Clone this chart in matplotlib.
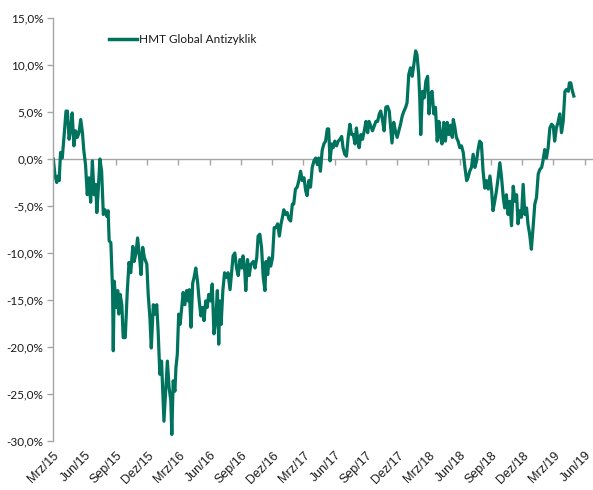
import pandas as pd
import matplotlib
matplotlib.use("Agg")
import matplotlib.pyplot as plt
from matplotlib.ticker import FuncFormatter

# values (performance in %)
dates = [
    "2015-03-02", "2015-03-07", "2015-03-12", "2015-03-16", "2015-03-19", "2015-03-23", "2015-03-28",
    "2015-04-02", "2015-04-08", "2015-04-12", "2015-04-17", "2015-04-22", "2015-04-26", "2015-05-01",
    "2015-05-06", "2015-05-11", "2015-05-16", "2015-05-21", "2015-05-26", "2015-05-30", "2015-06-04",
    "2015-06-09", "2015-06-14", "2015-06-19", "2015-06-24", "2015-06-29", "2015-07-04", "2015-07-07",
    "2015-07-11", "2015-07-16", "2015-07-21", "2015-07-26", "2015-07-31", "2015-08-05", "2015-08-09",
    "2015-08-12", "2015-08-17", "2015-08-22", "2015-08-24", "2015-08-27", "2015-09-01", "2015-09-06",
    "2015-09-09", "2015-09-13", "2015-09-18", "2015-09-22", "2015-09-28", "2015-10-04", "2015-10-09",
    "2015-10-14", "2015-10-20", "2015-10-24", "2015-10-29", "2015-11-03", "2015-11-08", "2015-11-13",
    "2015-11-18", "2015-11-23", "2015-11-30", "2015-12-04", "2015-12-09", "2015-12-13", "2015-12-19",
    "2015-12-24", "2015-12-29", "2016-01-02", "2016-01-07", "2016-01-12", "2016-01-15", "2016-01-19",
    "2016-01-24", "2016-01-29", "2016-02-03", "2016-02-08", "2016-02-11", "2016-02-15", "2016-02-20",
    "2016-02-23", "2016-02-27", "2016-03-02", "2016-03-06", "2016-03-11", "2016-03-15", "2016-03-20",
    "2016-03-25", "2016-03-30", "2016-04-02", "2016-04-07", "2016-04-12", "2016-04-16", "2016-04-21",
    "2016-04-26", "2016-05-01", "2016-05-06", "2016-05-11", "2016-05-15", "2016-05-20", "2016-05-24",
    "2016-05-29", "2016-06-03", "2016-06-08", "2016-06-13", "2016-06-18", "2016-06-23", "2016-06-27",
    "2016-06-30", "2016-07-04", "2016-07-09", "2016-07-14", "2016-07-19", "2016-07-24", "2016-07-30",
    "2016-08-04", "2016-08-08", "2016-08-13", "2016-08-18", "2016-08-23", "2016-08-28", "2016-09-02",
    "2016-09-06", "2016-09-11", "2016-09-14", "2016-09-19", "2016-09-24", "2016-09-29", "2016-10-06",
    "2016-10-11", "2016-10-16", "2016-10-20", "2016-10-25", "2016-10-30", "2016-11-04", "2016-11-09",
    "2016-11-12", "2016-11-17", "2016-11-21", "2016-11-26", "2016-12-01", "2016-12-06", "2016-12-11",
    "2016-12-16", "2016-12-21", "2016-12-26", "2016-12-30", "2017-01-03", "2017-01-08", "2017-01-13",
    "2017-01-18", "2017-01-23", "2017-01-28", "2017-02-01", "2017-02-06", "2017-02-11", "2017-02-16",
    "2017-02-21", "2017-02-26", "2017-03-03", "2017-03-08", "2017-03-12", "2017-03-17", "2017-03-22",
    "2017-03-27", "2017-04-01", "2017-04-06", "2017-04-11", "2017-04-15", "2017-04-20", "2017-04-25",
    "2017-04-30", "2017-05-05", "2017-05-10", "2017-05-14", "2017-05-18", "2017-05-23", "2017-05-27",
    "2017-06-01", "2017-06-06", "2017-06-11", "2017-06-16", "2017-06-21", "2017-06-25", "2017-06-30",
    "2017-07-05", "2017-07-10", "2017-07-15", "2017-07-20", "2017-07-25", "2017-07-30", "2017-08-03",
    "2017-08-08", "2017-08-11", "2017-08-16", "2017-08-21", "2017-08-26", "2017-08-31", "2017-09-05",
    "2017-09-09", "2017-09-14", "2017-09-19", "2017-09-24", "2017-09-29", "2017-10-04", "2017-10-09",
    "2017-10-13", "2017-10-18", "2017-10-23", "2017-10-28", "2017-11-02", "2017-11-07", "2017-11-12",
    "2017-11-15", "2017-11-20", "2017-11-25", "2017-11-30", "2017-12-05", "2017-12-10", "2017-12-15",
    "2017-12-20", "2017-12-25", "2017-12-29", "2018-01-03", "2018-01-08", "2018-01-13", "2018-01-18",
    "2018-01-23", "2018-01-27", "2018-02-01", "2018-02-04", "2018-02-07", "2018-02-12", "2018-02-17",
    "2018-02-22", "2018-02-27", "2018-03-03", "2018-03-08", "2018-03-12", "2018-03-17", "2018-03-22",
    "2018-03-27", "2018-04-01", "2018-04-06", "2018-04-10", "2018-04-15", "2018-04-20", "2018-04-25",
    "2018-04-30", "2018-05-05", "2018-05-10", "2018-05-13", "2018-05-17", "2018-05-22", "2018-05-27",
    "2018-06-01", "2018-06-06", "2018-06-11", "2018-06-16", "2018-06-21", "2018-06-25", "2018-06-30",
    "2018-07-05", "2018-07-10", "2018-07-15", "2018-07-20", "2018-07-24", "2018-07-29", "2018-08-03",
    "2018-08-08", "2018-08-13", "2018-08-18", "2018-08-23", "2018-08-28", "2018-09-02", "2018-09-06",
    "2018-09-11", "2018-09-16", "2018-09-21", "2018-09-26", "2018-10-01", "2018-10-06", "2018-10-10",
    "2018-10-15", "2018-10-20", "2018-10-25", "2018-10-30", "2018-11-04", "2018-11-09", "2018-11-14",
    "2018-11-18", "2018-11-23", "2018-11-28", "2018-12-03", "2018-12-08", "2018-12-13", "2018-12-17",
    "2018-12-22", "2018-12-27", "2019-01-01", "2019-01-06", "2019-01-11", "2019-01-16", "2019-01-21",
    "2019-01-26", "2019-01-30", "2019-02-04", "2019-02-09", "2019-02-14", "2019-02-19", "2019-02-24",
    "2019-03-01", "2019-03-05", "2019-03-10", "2019-03-15", "2019-03-20", "2019-03-25", "2019-03-30",
    "2019-04-04", "2019-04-09", "2019-04-14", "2019-04-17", "2019-04-21", "2019-04-26", "2019-04-30",
]
values = [
    0.0, -1.8, -2.5, -1.8, -2.3, 0.7, 0.1,
    2.3, 5.1, 5.1, 2.1, 3.3, 4.9, 1.4,
    3.0, 2.3, 2.8, 4.2, 2.8, 0.9, -0.6,
    -3.8, -2.0, -4.6, -0.2, -3.8, -2.7, -5.7,
    -3.4, 0.0, -1.3, -5.9, -5.4, -6.1, -5.5,
    -8.7, -8.9, -14.0, -20.4, -13.0, -15.8, -14.0,
    -16.5, -14.4, -15.5, -19.0, -19.0, -14.0, -11.0,
    -12.1, -9.3, -10.9, -10.1, -8.4, -10.1, -12.3,
    -9.4, -10.5, -11.2, -14.4, -16.9, -20.1, -15.5,
    -16.5, -15.5, -18.3, -22.9, -21.5, -24.3, -27.9,
    -24.7, -21.5, -24.3, -25.7, -29.3, -23.6, -24.7,
    -22.2, -20.8, -16.5, -17.6, -15.8, -14.2, -15.5,
    -14.0, -15.1, -13.9, -17.9, -13.2, -12.6, -11.6,
    -13.0, -15.1, -16.7, -15.8, -17.2, -15.1, -15.8,
    -14.4, -15.1, -13.3, -18.6, -17.2, -14.0, -19.7,
    -15.1, -17.6, -14.0, -12.1, -12.6, -12.1, -13.9,
    -11.9, -10.3, -10.0, -11.6, -12.4, -10.7, -11.6,
    -10.3, -11.9, -14.0, -10.7, -12.4, -11.2, -10.9,
    -11.6, -10.5, -8.2, -8.0, -9.4, -12.6, -14.0,
    -10.9, -12.3, -10.5, -11.4, -10.5, -7.3, -7.3,
    -6.9, -8.2, -6.9, -6.2, -5.4, -5.9, -5.7,
    -6.4, -6.6, -4.8, -4.8, -3.2, -3.0, -2.3,
    -1.3, -2.3, -2.0, -3.4, -3.9, -2.3, -3.0,
    -0.9, -0.2, 0.1, -0.6, 0.1, -1.3, 0.9,
    1.6, 1.9, 3.2, 3.2, -0.2, 1.6, 1.2,
    1.9, 1.4, 1.9, 2.1, 2.4, 1.2, 0.5,
    0.3, 2.3, 3.7, 2.6, 2.6, 1.6, 3.3,
    1.9, 1.2, 2.6, 2.1, 3.0, 4.0, 2.8,
    4.0, 3.5, 3.0, 3.5, 4.0, 4.0, 4.8,
    5.1, 4.2, 3.0, 5.5, 5.6, 5.1, 3.0,
    1.7, 3.9, 3.0, 2.3, 3.0, 3.7, 4.6,
    5.1, 5.5, 6.0, 9.0, 9.7, 8.8, 10.1,
    11.5, 11.1, 9.0, 6.5, 2.6, 7.2, 6.5,
    8.3, 8.8, 4.8, 6.9, 7.2, 4.8, 5.5,
    1.9, 4.0, 2.3, 1.6, 3.9, 1.9, 3.9,
    2.6, 3.6, 2.3, 4.2, 3.5, 2.3, 1.9,
    1.2, 1.4, 0.7, -0.9, -2.3, -2.0, -1.3,
    -0.9, 0.5, -0.9, -0.2, 0.9, 1.9, 1.7,
    -1.3, -3.1, -2.3, -3.2, -1.8, -3.4, -5.5,
    -4.5, -3.4, -2.0, -0.4, -2.0, -4.1, -5.2,
    -3.8, -5.9, -4.5, -7.1, -2.9, -4.5, -3.8,
    -6.9, -5.5, -6.2, -2.7, -5.9, -5.2, -6.9,
    -8.0, -9.6, -7.3, -4.8, -4.1, -1.6, -1.1,
    -0.9, -0.2, 1.0, 0.1, 1.2, 3.3, 3.7,
    3.5, 1.9, 3.3, 3.9, 4.8, 2.8, 4.0,
    7.2, 7.4, 7.2, 8.1, 8.1, 7.2, 6.7,
]
series_name = "HMT Global Antizyklik"

tick_dates = ["2015-03-01", "2015-06-01", "2015-09-01", "2015-12-01",
              "2016-03-01", "2016-06-01", "2016-09-01", "2016-12-01",
              "2017-03-01", "2017-06-01", "2017-09-01", "2017-12-01",
              "2018-03-01", "2018-06-01", "2018-09-01", "2018-12-01",
              "2019-03-01", "2019-06-01"]
tick_labels = ["Mrz/15", "Jun/15", "Sep/15", "Dez/15", "Mrz/16", "Jun/16",
               "Sep/16", "Dez/16", "Mrz/17", "Jun/17", "Sep/17", "Dez/17",
               "Mrz/18", "Jun/18", "Sep/18", "Dez/18", "Mrz/19", "Jun/19"]
y_ticks = [15, 10, 5, 0, -5, -10, -15, -20, -25, -30]

line_color = "#00735e"
axis_color = "#a6a6a6"
text_color = "#1a1a1a"

x = pd.to_datetime(dates)
xt = pd.to_datetime(tick_dates)

fig = plt.figure(figsize=(5.93, 4.90), dpi=100)
ax = fig.add_axes([53 / 593, 1 - 441 / 490, 540 / 593, 423 / 490])

ax.plot(x, values, color=line_color, lw=2.3, solid_joinstyle="round", label=series_name)

ax.set_xlim(pd.Timestamp("2015-03-01"), pd.Timestamp("2019-06-25"))
ax.set_ylim(-30, 15)

# y axis
ax.set_yticks(y_ticks)
ax.yaxis.set_major_formatter(FuncFormatter(lambda v, p: f"{v:.1f}".replace(".", ",") + "%"))
ax.tick_params(axis="y", direction="out", length=4, width=1, color=axis_color,
               labelsize=8.5, labelcolor=text_color, pad=3)
for lab in ax.get_yticklabels():
    lab.set_family("Lato")

for s in ["top", "right", "bottom"]:
    ax.spines[s].set_visible(False)
ax.spines["left"].set_color(axis_color)
ax.spines["left"].set_linewidth(1)

# x labels at the bottom, no tick marks
ax.set_xticks(xt)
ax.set_xticklabels(tick_labels, rotation=45, ha="right", va="top",
                   rotation_mode="anchor", family="Liberation Sans")
ax.tick_params(axis="x", length=0, pad=6, labelsize=9, labelcolor=text_color)

# axis line with tick marks at 0 %
sec = ax.secondary_xaxis(30 / 45)
sec.set_alignment("bottom")
sec.set_xticks(xt)
sec.set_xticklabels([])
sec.tick_params(axis="x", direction="out", length=4, width=1, color=axis_color)
sec.spines["bottom"].set_color(axis_color)
sec.spines["bottom"].set_linewidth(1)

leg = ax.legend(loc="center left", bbox_to_anchor=(0.104, 0.948), frameon=False,
                borderpad=0, borderaxespad=0, handlelength=2.4, handletextpad=0.12,
                prop={"family": "Lato", "size": 8.5})
for t in leg.get_texts():
    t.set_color(text_color)
for h in leg.get_lines():
    h.set_linewidth(2.5)

fig.savefig("out.png", dpi=100)
